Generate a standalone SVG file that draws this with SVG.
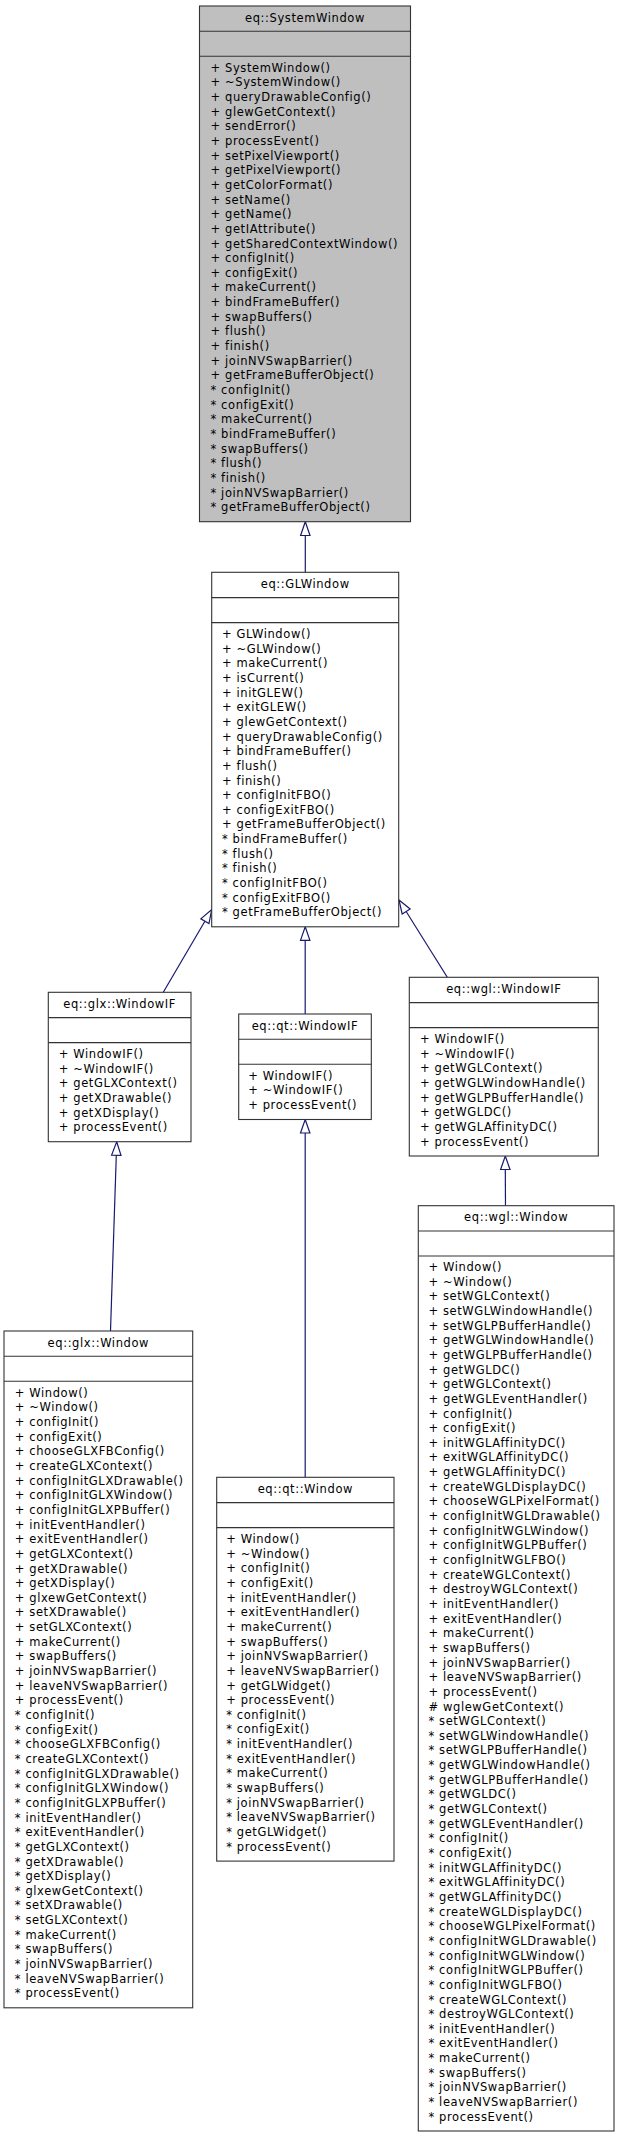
<svg xmlns="http://www.w3.org/2000/svg" width="619" height="2139" viewBox="0 0 619 2139">
<style>
  .box { fill: #ffffff; stroke: #333333; stroke-width: 1.1; }
  .cur { fill: #bfbfbf; }
  .sep { stroke: #333333; stroke-width: 1.1; }
  text { font-family: "DejaVu Sans", "Liberation Sans", sans-serif; font-size: 11.5px; letter-spacing: 0.6px; fill: #000000; }
  .t { text-anchor: middle; }
  .edge { stroke: #191970; stroke-width: 1.2; fill: none; }
  .head { stroke: #191970; stroke-width: 1.2; fill: #ffffff; }
</style>
<rect x="0" y="0" width="619" height="2139" fill="#ffffff"/>

<g id="connectors">
  <line class="edge" x1="305.3" y1="572.3" x2="305.3" y2="535.5"/>
  <polygon class="head" points="305.3,521.7 310,535.5 300.6,535.5"/>
  <line class="edge" x1="163.3" y1="992.3" x2="204.9" y2="921.2"/>
  <polygon class="head" points="211.7,909.5 208.96,923.57 200.84,918.83"/>
  <line class="edge" x1="305.2" y1="1014" x2="305.2" y2="940.3"/>
  <polygon class="head" points="305.2,926.8 309.9,940.3 300.5,940.3"/>
  <line class="edge" x1="447.3" y1="977.3" x2="406.15" y2="911.45"/>
  <polygon class="head" points="399,900 410.14,908.96 402.16,913.94"/>
  <line class="edge" x1="110.5" y1="1331" x2="116.3" y2="1155.2"/>
  <polygon class="head" points="116.7,1141.7 121,1155.3 111.6,1155.1"/>
  <line class="edge" x1="305.2" y1="1477.3" x2="305.2" y2="1133"/>
  <polygon class="head" points="305.2,1119.5 309.9,1133 300.5,1133"/>
  <line class="edge" x1="505.5" y1="1205.7" x2="505.3" y2="1169.5"/>
  <polygon class="head" points="505.3,1156 510,1169.5 500.6,1169.5"/>
</g>

<g id="SystemWindow">
  <rect class="box cur" x="199.5" y="6" width="211" height="515.7"/>
  <line class="sep" x1="199.5" y1="31.3" x2="410.5" y2="31.3"/>
  <line class="sep" x1="199.5" y1="56.3" x2="410.5" y2="56.3"/>
  <text class="t" x="305" y="21.7">eq::SystemWindow</text>
  <text x="210.5" y="71.7">+ SystemWindow()</text>
  <text x="210.5" y="86.35">+ ~SystemWindow()</text>
  <text x="210.5" y="101">+ queryDrawableConfig()</text>
  <text x="210.5" y="115.65">+ glewGetContext()</text>
  <text x="210.5" y="130.3">+ sendError()</text>
  <text x="210.5" y="144.95">+ processEvent()</text>
  <text x="210.5" y="159.6">+ setPixelViewport()</text>
  <text x="210.5" y="174.25">+ getPixelViewport()</text>
  <text x="210.5" y="188.9">+ getColorFormat()</text>
  <text x="210.5" y="203.55">+ setName()</text>
  <text x="210.5" y="218.2">+ getName()</text>
  <text x="210.5" y="232.85">+ getIAttribute()</text>
  <text x="210.5" y="247.5">+ getSharedContextWindow()</text>
  <text x="210.5" y="262.15">+ configInit()</text>
  <text x="210.5" y="276.8">+ configExit()</text>
  <text x="210.5" y="291.45">+ makeCurrent()</text>
  <text x="210.5" y="306.1">+ bindFrameBuffer()</text>
  <text x="210.5" y="320.75">+ swapBuffers()</text>
  <text x="210.5" y="335.4">+ flush()</text>
  <text x="210.5" y="350.05">+ finish()</text>
  <text x="210.5" y="364.7">+ joinNVSwapBarrier()</text>
  <text x="210.5" y="379.35">+ getFrameBufferObject()</text>
  <text x="210.5" y="394">* configInit()</text>
  <text x="210.5" y="408.65">* configExit()</text>
  <text x="210.5" y="423.3">* makeCurrent()</text>
  <text x="210.5" y="437.95">* bindFrameBuffer()</text>
  <text x="210.5" y="452.6">* swapBuffers()</text>
  <text x="210.5" y="467.25">* flush()</text>
  <text x="210.5" y="481.9">* finish()</text>
  <text x="210.5" y="496.55">* joinNVSwapBarrier()</text>
  <text x="210.5" y="511.2">* getFrameBufferObject()</text>
</g>

<g id="GLWindow">
  <rect class="box" x="211.7" y="572.3" width="187" height="354.5"/>
  <line class="sep" x1="211.7" y1="597.6" x2="398.7" y2="597.6"/>
  <line class="sep" x1="211.7" y1="622.6" x2="398.7" y2="622.6"/>
  <text class="t" x="305.2" y="588">eq::GLWindow</text>
  <text x="222" y="638">+ GLWindow()</text>
  <text x="222" y="652.65">+ ~GLWindow()</text>
  <text x="222" y="667.3">+ makeCurrent()</text>
  <text x="222" y="681.95">+ isCurrent()</text>
  <text x="222" y="696.6">+ initGLEW()</text>
  <text x="222" y="711.25">+ exitGLEW()</text>
  <text x="222" y="725.9">+ glewGetContext()</text>
  <text x="222" y="740.55">+ queryDrawableConfig()</text>
  <text x="222" y="755.2">+ bindFrameBuffer()</text>
  <text x="222" y="769.85">+ flush()</text>
  <text x="222" y="784.5">+ finish()</text>
  <text x="222" y="799.15">+ configInitFBO()</text>
  <text x="222" y="813.8">+ configExitFBO()</text>
  <text x="222" y="828.45">+ getFrameBufferObject()</text>
  <text x="222" y="843.1">* bindFrameBuffer()</text>
  <text x="222" y="857.75">* flush()</text>
  <text x="222" y="872.4">* finish()</text>
  <text x="222" y="887.05">* configInitFBO()</text>
  <text x="222" y="901.7">* configExitFBO()</text>
  <text x="222" y="916.35">* getFrameBufferObject()</text>
</g>

<g id="glxWindowIF">
  <rect class="box" x="48.3" y="992.3" width="142.7" height="149.4"/>
  <line class="sep" x1="48.3" y1="1017.6" x2="191" y2="1017.6"/>
  <line class="sep" x1="48.3" y1="1042.6" x2="191" y2="1042.6"/>
  <text class="t" x="119.65" y="1008">eq::glx::WindowIF</text>
  <text x="58.8" y="1058">+ WindowIF()</text>
  <text x="58.8" y="1072.65">+ ~WindowIF()</text>
  <text x="58.8" y="1087.3">+ getGLXContext()</text>
  <text x="58.8" y="1101.95">+ getXDrawable()</text>
  <text x="58.8" y="1116.6">+ getXDisplay()</text>
  <text x="58.8" y="1131.25">+ processEvent()</text>
</g>

<g id="qtWindowIF">
  <rect class="box" x="238.7" y="1014" width="132.6" height="105.5"/>
  <line class="sep" x1="238.7" y1="1039.3" x2="371.3" y2="1039.3"/>
  <line class="sep" x1="238.7" y1="1064.3" x2="371.3" y2="1064.3"/>
  <text class="t" x="305" y="1029.7">eq::qt::WindowIF</text>
  <text x="248.2" y="1079.7">+ WindowIF()</text>
  <text x="248.2" y="1094.35">+ ~WindowIF()</text>
  <text x="248.2" y="1109">+ processEvent()</text>
</g>

<g id="wglWindowIF">
  <rect class="box" x="409.3" y="977.3" width="189" height="178.7"/>
  <line class="sep" x1="409.3" y1="1002.6" x2="598.3" y2="1002.6"/>
  <line class="sep" x1="409.3" y1="1027.6" x2="598.3" y2="1027.6"/>
  <text class="t" x="503.8" y="993">eq::wgl::WindowIF</text>
  <text x="420" y="1043">+ WindowIF()</text>
  <text x="420" y="1057.65">+ ~WindowIF()</text>
  <text x="420" y="1072.3">+ getWGLContext()</text>
  <text x="420" y="1086.95">+ getWGLWindowHandle()</text>
  <text x="420" y="1101.6">+ getWGLPBufferHandle()</text>
  <text x="420" y="1116.25">+ getWGLDC()</text>
  <text x="420" y="1130.9">+ getWGLAffinityDC()</text>
  <text x="420" y="1145.55">+ processEvent()</text>
</g>

<g id="glxWindow">
  <rect class="box" x="4" y="1331" width="188.7" height="676.8"/>
  <line class="sep" x1="4" y1="1356.3" x2="192.7" y2="1356.3"/>
  <line class="sep" x1="4" y1="1381.3" x2="192.7" y2="1381.3"/>
  <text class="t" x="98.35" y="1346.7">eq::glx::Window</text>
  <text x="14.8" y="1396.7">+ Window()</text>
  <text x="14.8" y="1411.35">+ ~Window()</text>
  <text x="14.8" y="1426">+ configInit()</text>
  <text x="14.8" y="1440.65">+ configExit()</text>
  <text x="14.8" y="1455.3">+ chooseGLXFBConfig()</text>
  <text x="14.8" y="1469.95">+ createGLXContext()</text>
  <text x="14.8" y="1484.6">+ configInitGLXDrawable()</text>
  <text x="14.8" y="1499.25">+ configInitGLXWindow()</text>
  <text x="14.8" y="1513.9">+ configInitGLXPBuffer()</text>
  <text x="14.8" y="1528.55">+ initEventHandler()</text>
  <text x="14.8" y="1543.2">+ exitEventHandler()</text>
  <text x="14.8" y="1557.85">+ getGLXContext()</text>
  <text x="14.8" y="1572.5">+ getXDrawable()</text>
  <text x="14.8" y="1587.15">+ getXDisplay()</text>
  <text x="14.8" y="1601.8">+ glxewGetContext()</text>
  <text x="14.8" y="1616.45">+ setXDrawable()</text>
  <text x="14.8" y="1631.1">+ setGLXContext()</text>
  <text x="14.8" y="1645.75">+ makeCurrent()</text>
  <text x="14.8" y="1660.4">+ swapBuffers()</text>
  <text x="14.8" y="1675.05">+ joinNVSwapBarrier()</text>
  <text x="14.8" y="1689.7">+ leaveNVSwapBarrier()</text>
  <text x="14.8" y="1704.35">+ processEvent()</text>
  <text x="14.8" y="1719">* configInit()</text>
  <text x="14.8" y="1733.65">* configExit()</text>
  <text x="14.8" y="1748.3">* chooseGLXFBConfig()</text>
  <text x="14.8" y="1762.95">* createGLXContext()</text>
  <text x="14.8" y="1777.6">* configInitGLXDrawable()</text>
  <text x="14.8" y="1792.25">* configInitGLXWindow()</text>
  <text x="14.8" y="1806.9">* configInitGLXPBuffer()</text>
  <text x="14.8" y="1821.55">* initEventHandler()</text>
  <text x="14.8" y="1836.2">* exitEventHandler()</text>
  <text x="14.8" y="1850.85">* getGLXContext()</text>
  <text x="14.8" y="1865.5">* getXDrawable()</text>
  <text x="14.8" y="1880.15">* getXDisplay()</text>
  <text x="14.8" y="1894.8">* glxewGetContext()</text>
  <text x="14.8" y="1909.45">* setXDrawable()</text>
  <text x="14.8" y="1924.1">* setGLXContext()</text>
  <text x="14.8" y="1938.75">* makeCurrent()</text>
  <text x="14.8" y="1953.4">* swapBuffers()</text>
  <text x="14.8" y="1968.05">* joinNVSwapBarrier()</text>
  <text x="14.8" y="1982.7">* leaveNVSwapBarrier()</text>
  <text x="14.8" y="1997.35">* processEvent()</text>
</g>

<g id="qtWindow">
  <rect class="box" x="216.7" y="1477.3" width="177.3" height="383.8"/>
  <line class="sep" x1="216.7" y1="1502.6" x2="394" y2="1502.6"/>
  <line class="sep" x1="216.7" y1="1527.6" x2="394" y2="1527.6"/>
  <text class="t" x="305.35" y="1493">eq::qt::Window</text>
  <text x="226.2" y="1543">+ Window()</text>
  <text x="226.2" y="1557.65">+ ~Window()</text>
  <text x="226.2" y="1572.3">+ configInit()</text>
  <text x="226.2" y="1586.95">+ configExit()</text>
  <text x="226.2" y="1601.6">+ initEventHandler()</text>
  <text x="226.2" y="1616.25">+ exitEventHandler()</text>
  <text x="226.2" y="1630.9">+ makeCurrent()</text>
  <text x="226.2" y="1645.55">+ swapBuffers()</text>
  <text x="226.2" y="1660.2">+ joinNVSwapBarrier()</text>
  <text x="226.2" y="1674.85">+ leaveNVSwapBarrier()</text>
  <text x="226.2" y="1689.5">+ getGLWidget()</text>
  <text x="226.2" y="1704.15">+ processEvent()</text>
  <text x="226.2" y="1718.8">* configInit()</text>
  <text x="226.2" y="1733.45">* configExit()</text>
  <text x="226.2" y="1748.1">* initEventHandler()</text>
  <text x="226.2" y="1762.75">* exitEventHandler()</text>
  <text x="226.2" y="1777.4">* makeCurrent()</text>
  <text x="226.2" y="1792.05">* swapBuffers()</text>
  <text x="226.2" y="1806.7">* joinNVSwapBarrier()</text>
  <text x="226.2" y="1821.35">* leaveNVSwapBarrier()</text>
  <text x="226.2" y="1836">* getGLWidget()</text>
  <text x="226.2" y="1850.65">* processEvent()</text>
</g>

<g id="wglWindow">
  <rect class="box" x="418.3" y="1205.7" width="195.7" height="925.3"/>
  <line class="sep" x1="418.3" y1="1231" x2="614" y2="1231"/>
  <line class="sep" x1="418.3" y1="1256" x2="614" y2="1256"/>
  <text class="t" x="516.15" y="1221.4">eq::wgl::Window</text>
  <text x="428.5" y="1271">+ Window()</text>
  <text x="428.5" y="1285.65">+ ~Window()</text>
  <text x="428.5" y="1300.3">+ setWGLContext()</text>
  <text x="428.5" y="1314.95">+ setWGLWindowHandle()</text>
  <text x="428.5" y="1329.6">+ setWGLPBufferHandle()</text>
  <text x="428.5" y="1344.25">+ getWGLWindowHandle()</text>
  <text x="428.5" y="1358.9">+ getWGLPBufferHandle()</text>
  <text x="428.5" y="1373.55">+ getWGLDC()</text>
  <text x="428.5" y="1388.2">+ getWGLContext()</text>
  <text x="428.5" y="1402.85">+ getWGLEventHandler()</text>
  <text x="428.5" y="1417.5">+ configInit()</text>
  <text x="428.5" y="1432.15">+ configExit()</text>
  <text x="428.5" y="1446.8">+ initWGLAffinityDC()</text>
  <text x="428.5" y="1461.45">+ exitWGLAffinityDC()</text>
  <text x="428.5" y="1476.1">+ getWGLAffinityDC()</text>
  <text x="428.5" y="1490.75">+ createWGLDisplayDC()</text>
  <text x="428.5" y="1505.4">+ chooseWGLPixelFormat()</text>
  <text x="428.5" y="1520.05">+ configInitWGLDrawable()</text>
  <text x="428.5" y="1534.7">+ configInitWGLWindow()</text>
  <text x="428.5" y="1549.35">+ configInitWGLPBuffer()</text>
  <text x="428.5" y="1564">+ configInitWGLFBO()</text>
  <text x="428.5" y="1578.65">+ createWGLContext()</text>
  <text x="428.5" y="1593.3">+ destroyWGLContext()</text>
  <text x="428.5" y="1607.95">+ initEventHandler()</text>
  <text x="428.5" y="1622.6">+ exitEventHandler()</text>
  <text x="428.5" y="1637.25">+ makeCurrent()</text>
  <text x="428.5" y="1651.9">+ swapBuffers()</text>
  <text x="428.5" y="1666.55">+ joinNVSwapBarrier()</text>
  <text x="428.5" y="1681.2">+ leaveNVSwapBarrier()</text>
  <text x="428.5" y="1695.85">+ processEvent()</text>
  <text x="428.5" y="1710.5"># wglewGetContext()</text>
  <text x="428.5" y="1725.15">* setWGLContext()</text>
  <text x="428.5" y="1739.8">* setWGLWindowHandle()</text>
  <text x="428.5" y="1754.45">* setWGLPBufferHandle()</text>
  <text x="428.5" y="1769.1">* getWGLWindowHandle()</text>
  <text x="428.5" y="1783.75">* getWGLPBufferHandle()</text>
  <text x="428.5" y="1798.4">* getWGLDC()</text>
  <text x="428.5" y="1813.05">* getWGLContext()</text>
  <text x="428.5" y="1827.7">* getWGLEventHandler()</text>
  <text x="428.5" y="1842.35">* configInit()</text>
  <text x="428.5" y="1857">* configExit()</text>
  <text x="428.5" y="1871.65">* initWGLAffinityDC()</text>
  <text x="428.5" y="1886.3">* exitWGLAffinityDC()</text>
  <text x="428.5" y="1900.95">* getWGLAffinityDC()</text>
  <text x="428.5" y="1915.6">* createWGLDisplayDC()</text>
  <text x="428.5" y="1930.25">* chooseWGLPixelFormat()</text>
  <text x="428.5" y="1944.9">* configInitWGLDrawable()</text>
  <text x="428.5" y="1959.55">* configInitWGLWindow()</text>
  <text x="428.5" y="1974.2">* configInitWGLPBuffer()</text>
  <text x="428.5" y="1988.85">* configInitWGLFBO()</text>
  <text x="428.5" y="2003.5">* createWGLContext()</text>
  <text x="428.5" y="2018.15">* destroyWGLContext()</text>
  <text x="428.5" y="2032.8">* initEventHandler()</text>
  <text x="428.5" y="2047.45">* exitEventHandler()</text>
  <text x="428.5" y="2062.1">* makeCurrent()</text>
  <text x="428.5" y="2076.75">* swapBuffers()</text>
  <text x="428.5" y="2091.4">* joinNVSwapBarrier()</text>
  <text x="428.5" y="2106.05">* leaveNVSwapBarrier()</text>
  <text x="428.5" y="2120.7">* processEvent()</text>
</g>
</svg>
